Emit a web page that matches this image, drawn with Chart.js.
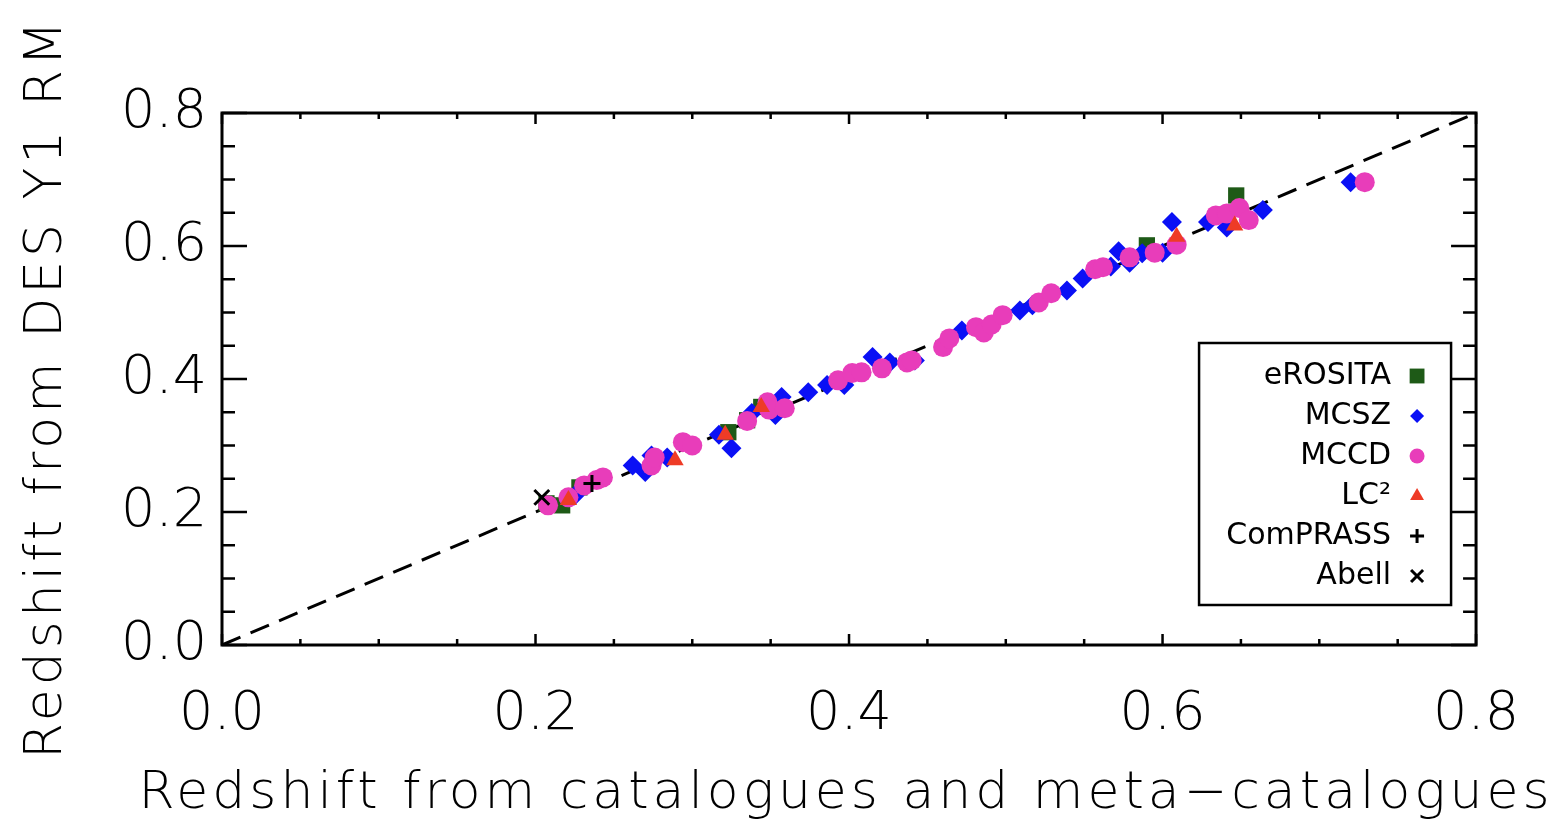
<!DOCTYPE html>
<html>
<head>
<meta charset="utf-8">
<script src="https://cdn.jsdelivr.net/npm/chart.js@4.4.0/dist/chart.umd.min.js"></script>
<style>
  html, body { margin: 0; padding: 0; background: #fff; }
  #wrap { width: 1557px; height: 826px; }
</style>
</head>
<body>
<div id="wrap"><canvas id="redshiftChart"></canvas></div>
<script>
// values (catalogue z, DES Y1 RM z)
const erositaX = [0.207, 0.217, 0.228, 0.323, 0.335, 0.344, 0.590, 0.647];
const erositaY = [0.213, 0.210, 0.237, 0.320, 0.338, 0.358, 0.601, 0.676];

const mcszX = [0.225, 0.262, 0.270, 0.274, 0.284, 0.317, 0.325, 0.338, 0.353, 0.357, 0.374, 0.386, 0.397, 0.415, 0.426, 0.442,
  0.472, 0.509, 0.517, 0.539, 0.549, 0.567, 0.572, 0.579, 0.587, 0.600, 0.606, 0.629, 0.641, 0.664, 0.720];
const mcszY = [0.225, 0.270, 0.260, 0.285, 0.282, 0.316, 0.296, 0.349, 0.346, 0.373, 0.380, 0.391, 0.391, 0.433, 0.425, 0.428,
  0.473, 0.503, 0.511, 0.533, 0.551, 0.569, 0.592, 0.575, 0.589, 0.590, 0.636, 0.636, 0.628, 0.654, 0.696];

const mccdX = [0.208, 0.221, 0.231, 0.239, 0.243, 0.274, 0.276, 0.294, 0.300, 0.335, 0.348, 0.349, 0.359, 0.393, 0.402, 0.408,
  0.421, 0.437, 0.440, 0.460, 0.464, 0.481, 0.486, 0.491, 0.498, 0.521, 0.529, 0.557, 0.562, 0.579, 0.595, 0.609,
  0.634, 0.641, 0.649, 0.655, 0.729];
const mccdY = [0.210, 0.222, 0.240, 0.248, 0.252, 0.270, 0.282, 0.305, 0.300, 0.337, 0.365, 0.354, 0.356, 0.398, 0.409, 0.410,
  0.416, 0.425, 0.428, 0.448, 0.461, 0.478, 0.470, 0.482, 0.496, 0.515, 0.529, 0.565, 0.568, 0.583, 0.590, 0.602,
  0.646, 0.649, 0.657, 0.639, 0.696];

const lc2X = [0.221, 0.289, 0.321, 0.344, 0.609, 0.646];
const lc2Y = [0.218, 0.278, 0.316, 0.358, 0.614, 0.631];

const comprassX = [0.236];
const comprassY = [0.243];

const abellX = [0.204];
const abellY = [0.222];

// one-to-one line
const diagX = [0, 0.8];
const diagY = [0, 0.8];

// tick marks every 0.05, labelled every 0.2
const tickValues = [0, 0.05, 0.1, 0.15, 0.2, 0.25, 0.3, 0.35, 0.4, 0.45, 0.5, 0.55, 0.6, 0.65, 0.7, 0.75, 0.8];

const xTitle = 'Redshift from catalogues and meta\u2212catalogues';
const yTitle = 'Redshift from DES Y1 RM';

const FONT = "'DejaVu Sans', sans-serif";

const pts = (xs, ys) => xs.map((x, i) => ({ x: x, y: ys[i] }));

const series = [
  { label: 'eROSITA', x: erositaX, y: erositaY, style: 'rect', r: 11.5, lr: 10.5, color: '#1e5a17', bw: 0 },
  { label: 'MCSZ', x: mcszX, y: mcszY, style: 'rectRot', r: 10, lr: 7, color: '#0a10f5', bw: 0 },
  { label: 'MCCD', x: mccdX, y: mccdY, style: 'circle', r: 10, lr: 7.5, color: '#e83dba', bw: 0 },
  { label: 'LC\u00b2', x: lc2X, y: lc2Y, style: 'triangle', r: 10, lr: 8, color: '#ee3b26', bw: 0 },
  { label: 'ComPRASS', x: comprassX, y: comprassY, style: 'cross', r: 8.5, lr: 7, color: '#000000', bw: 3 },
  { label: 'Abell', x: abellX, y: abellY, style: 'crossRot', r: 10.5, lr: 8.5, color: '#000000', bw: 3 },
];

const datasets = series.map((s, i) => ({
  type: 'scatter',
  label: s.label,
  data: pts(s.x, s.y),
  pointStyle: s.style,
  pointRadius: s.r,
  pointBackgroundColor: s.color,
  pointBorderColor: s.color,
  pointBorderWidth: s.bw,
  order: 6 - i,
}));

datasets.push({
  type: 'line',
  label: 'one-to-one',
  data: pts(diagX, diagY),
  borderColor: '#000',
  borderWidth: 3,
  borderDash: [20, 11],
  pointRadius: 0,
  fill: false,
  order: 10,
});

// box, inward ticks, axis titles and the legend drawn on top
const framePlugin = {
  id: 'framePlugin',
  afterDraw(chart) {
    const ctx = chart.ctx;
    const a = chart.chartArea;
    const xs = chart.scales.x, ys = chart.scales.y;
    ctx.save();
    ctx.strokeStyle = '#000';
    ctx.lineWidth = 3;
    ctx.strokeRect(a.left, a.top, a.right - a.left, a.bottom - a.top);
    ctx.lineWidth = 2.5;
    ctx.beginPath();
    tickValues.forEach((v, i) => {
      const major = i % 4 === 0;
      const px = xs.getPixelForValue(v);
      const lx = major ? 11 : 6;
      ctx.moveTo(px, a.bottom); ctx.lineTo(px, a.bottom - lx);
      ctx.moveTo(px, a.top); ctx.lineTo(px, a.top + lx);
      const py = ys.getPixelForValue(v);
      const ly = major ? 25 : 13;
      ctx.moveTo(a.left, py); ctx.lineTo(a.left + ly, py);
      ctx.moveTo(a.right, py); ctx.lineTo(a.right - ly, py);
    });
    ctx.stroke();

    // axis titles, spaced out like the vector font of the original
    ctx.fillStyle = '#000';
    ctx.font = '200 52px ' + FONT;
    ctx.letterSpacing = '4px';
    ctx.textAlign = 'center';
    ctx.textBaseline = 'alphabetic';
    ctx.fillText(xTitle, (a.left + a.right) / 2 - 3, a.bottom + 163);
    ctx.save();
    ctx.translate(a.left - 161, (a.top + a.bottom) / 2 + 9);
    ctx.rotate(-Math.PI / 2);
    ctx.fillText(yTitle, 0, 0);
    ctx.restore();
    ctx.letterSpacing = '0px';

    // legend box
    const bx = a.right - 277, by = a.bottom - 302, bw = 252, bh = 262;
    ctx.fillStyle = '#fff';
    ctx.fillRect(bx, by, bw, bh);
    ctx.lineWidth = 2.5;
    ctx.strokeRect(bx, by, bw, bh);
    ctx.font = '30px ' + FONT;
    ctx.textAlign = 'right';
    ctx.textBaseline = 'middle';
    series.forEach((s, i) => {
      const ry = by + 33 + i * 40;
      ctx.fillStyle = '#000';
      ctx.fillText(s.label, bx + bw - 60, ry);
      ctx.fillStyle = s.color;
      ctx.strokeStyle = s.color;
      ctx.lineWidth = s.bw || 1;
      Chart.helpers.drawPoint(ctx, { pointStyle: s.style, radius: s.lr, rotation: 0, borderWidth: s.bw }, bx + bw - 34, ry);
    });
    ctx.restore();
  }
};

new Chart(document.getElementById('redshiftChart').getContext('2d'), {
  data: { datasets: datasets },
  options: {
    responsive: true,
    maintainAspectRatio: false,
    animation: false,
    layout: { padding: { top: 113, right: 73, left: 0, bottom: 0 } },
    plugins: { legend: { display: false }, tooltip: { enabled: false } },
    scales: {
      x: {
        type: 'linear',
        min: 0,
        max: 0.8,
        grid: { display: false, drawTicks: false },
        border: { display: false },
        afterFit: (s) => { s.height = 181; },
        ticks: {
          stepSize: 0.2,
          padding: 38,
          color: '#000',
          font: { family: FONT, size: 54, weight: 200 },
          callback: (v) => v.toFixed(1),
        },
      },
      y: {
        type: 'linear',
        min: 0,
        max: 0.8,
        grid: { display: false, drawTicks: false },
        border: { display: false },
        afterFit: (s) => { s.width = 222; },
        ticks: {
          stepSize: 0.2,
          padding: 15,
          color: '#000',
          font: { family: FONT, size: 54, weight: 200 },
          callback: (v) => v.toFixed(1),
        },
      },
    },
  },
  plugins: [framePlugin],
});
</script>
</body>
</html>
